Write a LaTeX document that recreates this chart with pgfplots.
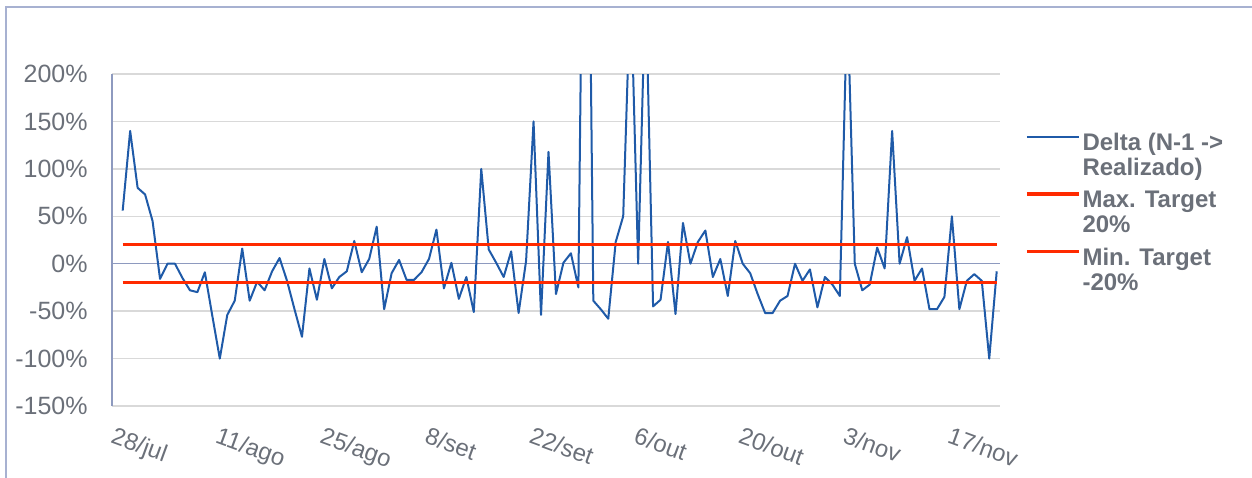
\documentclass[border=0pt]{standalone}
\usepackage{fontspec}
\setmainfont{Liberation Sans}
\usepackage{pgfplots}
\pgfplotsset{compat=1.18}
\definecolor{blueline}{HTML}{1F5AA8}
\definecolor{redline}{HTML}{FF2A00}
\definecolor{gridc}{HTML}{D9D9D9}
\definecolor{axisc}{HTML}{8E9ABF}
\definecolor{textc}{HTML}{6B7079}
\definecolor{framec}{HTML}{A7B1D1}
\pgfplotstableread{
x y
0 56
1 140
2 80
3 73
4 45
5 -16
6 0
7 0
8 -15
9 -28
10 -30
11 -9
12 -55
13 -100
14 -54
15 -39
16 16
17 -39
18 -19
19 -28
20 -8
21 6
22 -18
23 -48
24 -77
25 -5
26 -38
27 5
28 -26
29 -14
30 -8
31 24
32 -9
33 5
34 39
35 -48
36 -10
37 4
38 -17
39 -17
40 -9
41 5
42 36
43 -26
44 1
45 -37
46 -14
47 -51
48 100
49 15
50 1
51 -14
52 13
53 -52
54 3
55 150
56 -54
57 118
58 -32
59 1
60 11
61 -25
62 700
63 -39
64 -48
65 -58
66 23
67 50
68 300
69 0
70 300
71 -45
72 -38
73 23
74 -53
75 43
76 0
77 23
78 35
79 -14
80 5
81 -34
82 24
83 0
84 -10
85 -32
86 -52
87 -52
88 -39
89 -34
90 0
91 -18
92 -6
93 -46
94 -14
95 -22
96 -34
97 280
98 0
99 -28
100 -22
101 17
102 -5
103 140
104 0
105 28
106 -18
107 -5
108 -48
109 -48
110 -35
111 50
112 -48
113 -18
114 -11
115 -18
116 -100
117 -8
}\delta
\begin{document}
\begin{tikzpicture}
\useasboundingbox (0,0) rectangle (626pt,238.5pt);
\draw[framec, line width=0.75pt] (3pt,-5pt) -- (3pt,235pt) -- (640pt,235pt);
\begin{axis}[
  at={(56pt,35.5pt)}, anchor=south west,
  scale only axis, width=444pt, height=166pt,
  xmin=-1.43, xmax=117.44, ymin=-150, ymax=200,
  axis x line*=bottom, axis y line*=left,
  x axis line style={draw=none},
  y axis line style={draw=axisc, line width=0.75pt, -},
  ymajorgrids, major grid style={gridc, line width=0.75pt},
  major tick length=0pt,
  ytick={-150,-100,-50,0,50,100,150,200},
  yticklabels={-150\%,-100\%,-50\%,0\%,50\%,100\%,150\%,200\%},
  xtick={0,14,28,42,56,70,84,98,112},
  xticklabels={28/jul,11/ago,25/ago,8/set,22/set,6/out,20/out,3/nov,17/nov},
  yticklabel style={font=\fontsize{12.5}{15}\selectfont, text=textc, anchor=east, inner sep=0pt, xshift=-12pt},
  xticklabel style={font=\fontsize{12}{14}\selectfont, text=textc, rotate=-20, anchor=north west, inner sep=0pt, xshift=0pt, yshift=-10.5pt},
  extra y ticks={0}, extra y tick labels={},
  extra y tick style={major grid style={axisc, line width=0.75pt}},
  legend cell align=left,
  legend style={draw=none, fill=none, at={(axis description cs:1.021,0.836)}, anchor=north west,
    font=\fontsize{12}{12.5}\selectfont\bfseries, text=textc,
    nodes={inner sep=0pt, align=left}, row sep=6.25pt, column sep=1pt},
  legend image code/.code={\draw[#1] (0pt,9.5pt) -- (26pt,9.5pt);},
]
\addplot[blueline, line width=1pt, line join=round] table[x=x,y=y] {\delta};
\addlegendentry{Delta (N-1 ->\\Realizado)}
\addplot[redline, line width=1.75pt] coordinates {(0,20) (117,20)};
\addlegendentry{Max. Target\\20\%}
\addplot[redline, line width=1.75pt] coordinates {(0,-20) (117,-20)};
\addlegendentry{Min. Target\\-20\%}
\end{axis}
\end{tikzpicture}
\end{document}
